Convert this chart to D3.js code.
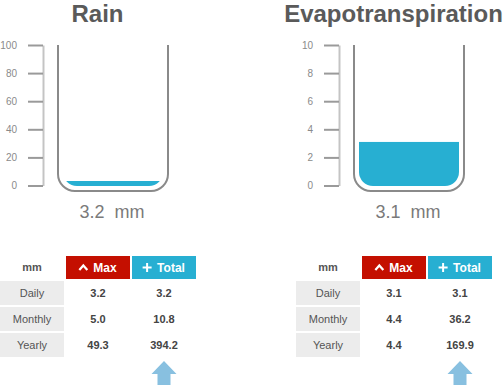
<!DOCTYPE html>
<html>
<head>
<meta charset="utf-8">
<script src="https://cdn.jsdelivr.net/npm/d3@7"></script>
<style>
  body { margin: 0; background: #fff; }
  svg { font-family: "Liberation Sans", Arial, Helvetica, sans-serif; display: block; }
</style>
</head>
<body>
<div id="chart"></div>
<script>
// data
var panelNames = ["Rain", "Evapotranspiration"];
var currentValues = [3.2, 3.1];
var axisMax = [100, 10];
var unit = "mm";
var rowLabels = ["Daily", "Monthly", "Yearly"];
var maxValues = [[3.2, 5.0, 49.3], [3.1, 4.4, 4.4]];
var totalValues = [[3.2, 10.8, 394.2], [3.1, 36.2, 169.9]];

var width = 504, height = 385;
var panelStep = 296;

var svg = d3.select("#chart")
    .append("svg")
    .attr("width", width)
    .attr("height", height);

// beaker geometry (relative to panel)
var beaker = {left: 58, right: 168, top: 45, bottom: 191, r: 17};
var inner = {left: 63, right: 163, bottom: 186, r: 14};

var defs = svg.append("defs");

panelNames.forEach(function(name, p) {
    var g = svg.append("g")
        .attr("transform", "translate(" + (p * panelStep) + ",0)");

    var y = d3.scaleLinear()
        .domain([0, axisMax[p]])
        .range([inner.bottom - 0.5, beaker.top]);

    // title
    g.append("text")
        .attr("x", 97.5)
        .attr("y", 22)
        .attr("text-anchor", "middle")
        .attr("font-size", 24)
        .attr("font-weight", "bold")
        .attr("fill", "#5a5a5a")
        .text(name);

    // axis
    var axis = g.append("g")
        .attr("transform", "translate(43,0)")
        .call(d3.axisLeft(y).ticks(5).tickSize(15).tickSizeOuter(0).tickPadding(11));
    axis.select(".domain").attr("stroke", "#c4c4c4").attr("stroke-width", 2);
    axis.selectAll(".tick line").attr("stroke", "#9a9a9a").attr("stroke-width", 2);
    axis.selectAll(".tick text")
        .attr("fill", "#8a8a8a")
        .attr("font-size", 10)
        .attr("font-family", "Liberation Sans, Arial, sans-serif");

    // water, clipped to inner beaker shape
    var clipId = "clip" + p;
    var ip = d3.path();
    ip.moveTo(inner.left, beaker.top);
    ip.lineTo(inner.left, inner.bottom - inner.r);
    ip.arcTo(inner.left, inner.bottom, inner.left + inner.r, inner.bottom, inner.r);
    ip.lineTo(inner.right - inner.r, inner.bottom);
    ip.arcTo(inner.right, inner.bottom, inner.right, inner.bottom - inner.r, inner.r);
    ip.lineTo(inner.right, beaker.top);
    ip.closePath();
    defs.append("clipPath").attr("id", clipId)
        .append("path").attr("d", ip.toString());

    g.append("rect")
        .attr("clip-path", "url(#" + clipId + ")")
        .attr("x", inner.left)
        .attr("width", inner.right - inner.left)
        .attr("y", y(currentValues[p]))
        .attr("height", inner.bottom - y(currentValues[p]))
        .attr("fill", "#27afd2");

    // beaker outline
    var bp = d3.path();
    bp.moveTo(beaker.left, beaker.top);
    bp.lineTo(beaker.left, beaker.bottom - beaker.r);
    bp.arcTo(beaker.left, beaker.bottom, beaker.left + beaker.r, beaker.bottom, beaker.r);
    bp.lineTo(beaker.right - beaker.r, beaker.bottom);
    bp.arcTo(beaker.right, beaker.bottom, beaker.right, beaker.bottom - beaker.r, beaker.r);
    bp.lineTo(beaker.right, beaker.top);
    g.append("path")
        .attr("d", bp.toString())
        .attr("fill", "none")
        .attr("stroke", "#8a8a8a")
        .attr("stroke-width", 2);

    // value label
    g.append("text")
        .attr("x", 112)
        .attr("y", 217.5)
        .attr("text-anchor", "middle")
        .attr("font-size", 18)
        .attr("fill", "#7a7a7a")
        .style("white-space", "pre")
        .text(d3.format(".1f")(currentValues[p]) + "  " + unit);

    // table
    var cols = d3.scaleBand().domain(["label", "max", "total"]).range([0, 196]).paddingInner(2 / 66);
    var rows = d3.scaleBand().domain(["head"].concat(rowLabels)).range([255, 357]).paddingInner(2 / 26);

    // header
    g.append("text")
        .attr("x", cols("label") + cols.bandwidth() / 2)
        .attr("y", rows("head") + rows.bandwidth() / 2 + 4)
        .attr("text-anchor", "middle")
        .attr("font-size", 11)
        .attr("font-weight", "bold")
        .attr("fill", "#555")
        .text(unit);

    var buttons = [
        {key: "max", label: "Max", color: "#c40f00"},
        {key: "total", label: "Total", color: "#27afd2"}
    ];
    buttons.forEach(function(b) {
        var bx = cols(b.key), by = rows("head") + 1;
        var bh = rows.bandwidth() - 1;
        g.append("rect")
            .attr("x", bx).attr("y", by)
            .attr("width", cols.bandwidth()).attr("height", bh)
            .attr("fill", b.color);
        var cx = bx + cols.bandwidth() / 2, cy = by + bh / 2;
        var t = g.append("text")
            .attr("x", cx + 7)
            .attr("y", cy + 4)
            .attr("text-anchor", "middle")
            .attr("font-size", 12)
            .attr("font-weight", "bold")
            .attr("fill", "#fff")
            .text(b.label);
        var tw = t.node().getComputedTextLength();
        var ix = cx + 7 - tw / 2 - 10;
        if (b.key === "max") {
            g.append("path")
                .attr("d", "M" + (ix - 4) + "," + (cy + 2.5) + "L" + ix + "," + (cy - 2) + "L" + (ix + 4) + "," + (cy + 2.5))
                .attr("fill", "none")
                .attr("stroke", "#fff")
                .attr("stroke-width", 2.2);
        } else {
            g.append("path")
                .attr("d", "M" + (ix - 4.5) + "," + cy + "H" + (ix + 4.5) + "M" + ix + "," + (cy - 4.5) + "V" + (cy + 4.5))
                .attr("fill", "none")
                .attr("stroke", "#fff")
                .attr("stroke-width", 2);
        }
    });

    rowLabels.forEach(function(r, i) {
        g.append("rect")
            .attr("x", cols("label")).attr("y", rows(r))
            .attr("width", cols.bandwidth()).attr("height", rows.bandwidth())
            .attr("fill", "#ececec");
        g.append("text")
            .attr("x", cols("label") + cols.bandwidth() / 2)
            .attr("y", rows(r) + rows.bandwidth() / 2 + 4)
            .attr("text-anchor", "middle")
            .attr("font-size", 11)
            .attr("fill", "#555")
            .text(r);
        [["max", maxValues[p][i]], ["total", totalValues[p][i]]].forEach(function(c) {
            g.append("text")
                .attr("x", cols(c[0]) + cols.bandwidth() / 2)
                .attr("y", rows(r) + rows.bandwidth() / 2 + 4)
                .attr("text-anchor", "middle")
                .attr("font-size", 11)
                .attr("font-weight", "bold")
                .attr("fill", "#444")
                .text(d3.format(".1f")(c[1]));
        });
    });

    // arrow under total column
    var ax = cols("total") + cols.bandwidth() / 2;
    var ay = rows.range()[1] + 4;
    g.append("path")
        .attr("d", "M" + ax + "," + ay +
            "L" + (ax + 12.5) + "," + (ay + 13) +
            "L" + (ax + 6.5) + "," + (ay + 13) +
            "L" + (ax + 6.5) + "," + (ay + 30) +
            "L" + (ax - 6.5) + "," + (ay + 30) +
            "L" + (ax - 6.5) + "," + (ay + 13) +
            "L" + (ax - 12.5) + "," + (ay + 13) + "Z")
        .attr("fill", "#88c0e0");
});
</script>
</body>
</html>
